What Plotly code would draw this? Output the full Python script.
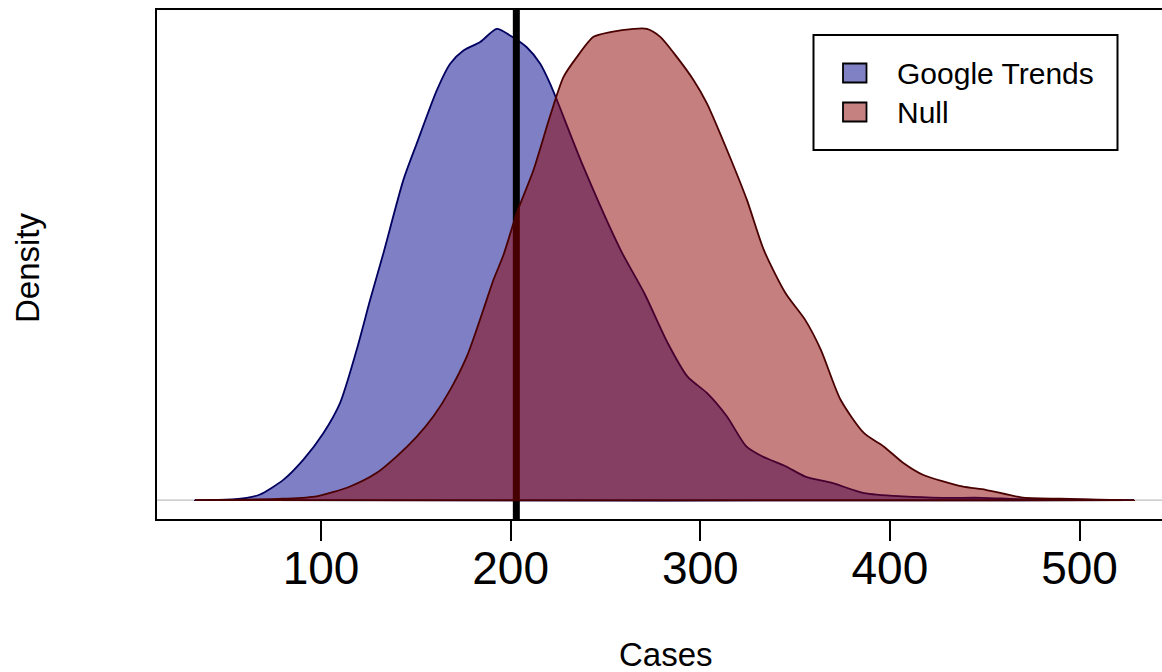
import plotly.graph_objects as go

# ---- data ----
google_x = [33.5, 50, 60.8, 67.8, 80.1, 90.7, 101.2, 110, 118.8, 125.9, 132.9, 143.4, 150.5,
            161.1, 168.1, 175.1, 183.9, 192.7, 199.7, 208.5, 215.6, 220.8, 224.4, 238.4, 258.1,
            270.5, 282.9, 293.3, 303.6, 314, 324.3, 332.6, 345, 355.4, 369.9, 386.4, 407.1,
            427.8, 448.5, 469.2, 500, 528.8]
google_density = [0, 0.001, 0.005, 0.012, 0.043, 0.086, 0.142, 0.206, 0.319, 0.425, 0.524, 0.679,
                  0.757, 0.870, 0.926, 0.954, 0.972, 1.0, 0.986, 0.961, 0.926, 0.884, 0.849, 0.707,
                  0.53, 0.439, 0.333, 0.262, 0.227, 0.178, 0.114, 0.093, 0.072, 0.050, 0.036,
                  0.015, 0.008, 0.005, 0.005, 0.002, 0.001, 0]

null_x = [33.5, 60, 80, 97.7, 115.3, 129.4, 139.9, 150.5, 159.3, 168.1, 176.9, 185.6, 190.9,
          196.2, 203.3, 212, 220.8, 227.9, 234.9, 243.7, 252.5, 264.8, 271.9, 278.9, 287.7,
          296.5, 303.5, 314.1, 324.6, 333.5, 345, 355.4, 363.6, 374, 386.4, 396.7, 407.1,
          417.4, 438.1, 450.5, 469.2, 489.9, 510, 528.8]
null_density = [0, 0.001, 0.003, 0.008, 0.029, 0.058, 0.093, 0.135, 0.178, 0.234, 0.305, 0.404,
                0.467, 0.52, 0.61, 0.70, 0.815, 0.898, 0.940, 0.983, 0.993, 1.0, 1.0, 0.983,
                0.940, 0.891, 0.842, 0.743, 0.637, 0.531, 0.439, 0.382, 0.319, 0.213, 0.142,
                0.114, 0.079, 0.054, 0.029, 0.022, 0.006, 0.003, 0.001, 0]

observed_cases = 203
x_ticks = [100, 200, 300, 400, 500]
series_names = ["Google Trends", "Null"]
x_label = "Cases"
y_label = "Density"

# ---- styling ----
FONT = "Liberation Sans, Arial, Helvetica, sans-serif"
BLUE_LINE = "#000060"
BLUE_FILL = "rgba(0,0,139,0.5)"
RED_LINE = "#4A0000"
RED_FILL = "rgba(139,0,0,0.5)"

ymax = max(max(google_density), max(null_density))
y_lo, y_hi = -0.04 * ymax, 1.04 * ymax

W, H = 1162, 672
L, R, T, B = 157, 0, 10, 153
pw, ph = W - L - R, H - T - B


def px(xp):
    return (xp - L) / pw


def py(yp):
    return (H - B - yp) / ph


fig = go.Figure()

# Google Trends polygon
fig.add_trace(go.Scatter(
    x=google_x + [google_x[0]], y=google_density + [google_density[0]],
    mode="lines", fill="toself", fillcolor=BLUE_FILL,
    line=dict(color=BLUE_LINE, width=1.8, shape="spline", smoothing=0.7),
    showlegend=False, hoverinfo="skip"))

# observed value line
fig.add_trace(go.Scatter(
    x=[observed_cases, observed_cases], y=[y_lo, y_hi],
    mode="lines", line=dict(color="black", width=7),
    showlegend=False, hoverinfo="skip"))

# Null polygon
fig.add_trace(go.Scatter(
    x=null_x + [null_x[0]], y=null_density + [null_density[0]],
    mode="lines", fill="toself", fillcolor=RED_FILL,
    line=dict(color=RED_LINE, width=1.8, shape="spline", smoothing=0.7),
    showlegend=False, hoverinfo="skip"))

shapes = [
    # gray zero line
    dict(type="line", xref="paper", yref="y", x0=0, x1=1, y0=0, y1=0,
         line=dict(color="#BEBEBE", width=1.2), layer="below"),
    # legend box
    dict(type="rect", xref="paper", yref="paper",
         x0=px(813.5), x1=px(1117.5), y0=py(150), y1=py(35),
         line=dict(color="black", width=2), fillcolor="white", layer="above"),
    dict(type="rect", xref="paper", yref="paper",
         x0=px(843), x1=px(866.5), y0=py(82.5), y1=py(63.5),
         line=dict(color="black", width=1.8), fillcolor="#8080C5", layer="above"),
    dict(type="rect", xref="paper", yref="paper",
         x0=px(843), x1=px(866.5), y0=py(121.5), y1=py(102.5),
         line=dict(color="black", width=1.8), fillcolor="#C58080", layer="above"),
]

annotations = [
    dict(text=series_names[0], xref="paper", yref="paper", x=px(895), y=py(73),
         xanchor="left", yanchor="middle", showarrow=False,
         font=dict(family=FONT, size=30, color="black")),
    dict(text=series_names[1], xref="paper", yref="paper", x=px(895), y=py(112),
         xanchor="left", yanchor="middle", showarrow=False,
         font=dict(family=FONT, size=30, color="black")),
    dict(text=x_label, xref="paper", yref="paper", x=px(665.5), y=py(654),
         xanchor="center", yanchor="middle", showarrow=False, height=34,
         font=dict(family=FONT, size=33, color="black")),
    dict(text=y_label, xref="paper", yref="paper", x=px(27), y=py(268),
         xanchor="center", yanchor="middle", showarrow=False, textangle=-90,
         font=dict(family=FONT, size=33, color="black")),
]

fig.update_layout(
    width=W, height=H,
    margin=dict(l=L, r=R, t=T, b=B, pad=0),
    paper_bgcolor="white", plot_bgcolor="white",
    showlegend=False,
    shapes=shapes, annotations=annotations,
    xaxis=dict(range=[13.5, 543.5], tickmode="array", tickvals=x_ticks,
               ticktext=[str(v) for v in x_ticks],
               ticks="outside", ticklen=20, tickwidth=1.5, tickcolor="black",
               ticklabelstandoff=-12,
               showline=True, linecolor="black", linewidth=2, mirror=True,
               showgrid=False, zeroline=False,
               tickfont=dict(family=FONT, size=46, color="black")),
    yaxis=dict(range=[y_lo, y_hi], showticklabels=False, ticks="",
               showline=True, linecolor="black", linewidth=2, mirror=False,
               showgrid=False, zeroline=False),
)

fig.write_html(
    "out.html",
    config={"displayModeBar": False},
    post_script="document.body.style.margin='0px';document.body.style.overflow='hidden';",
)
